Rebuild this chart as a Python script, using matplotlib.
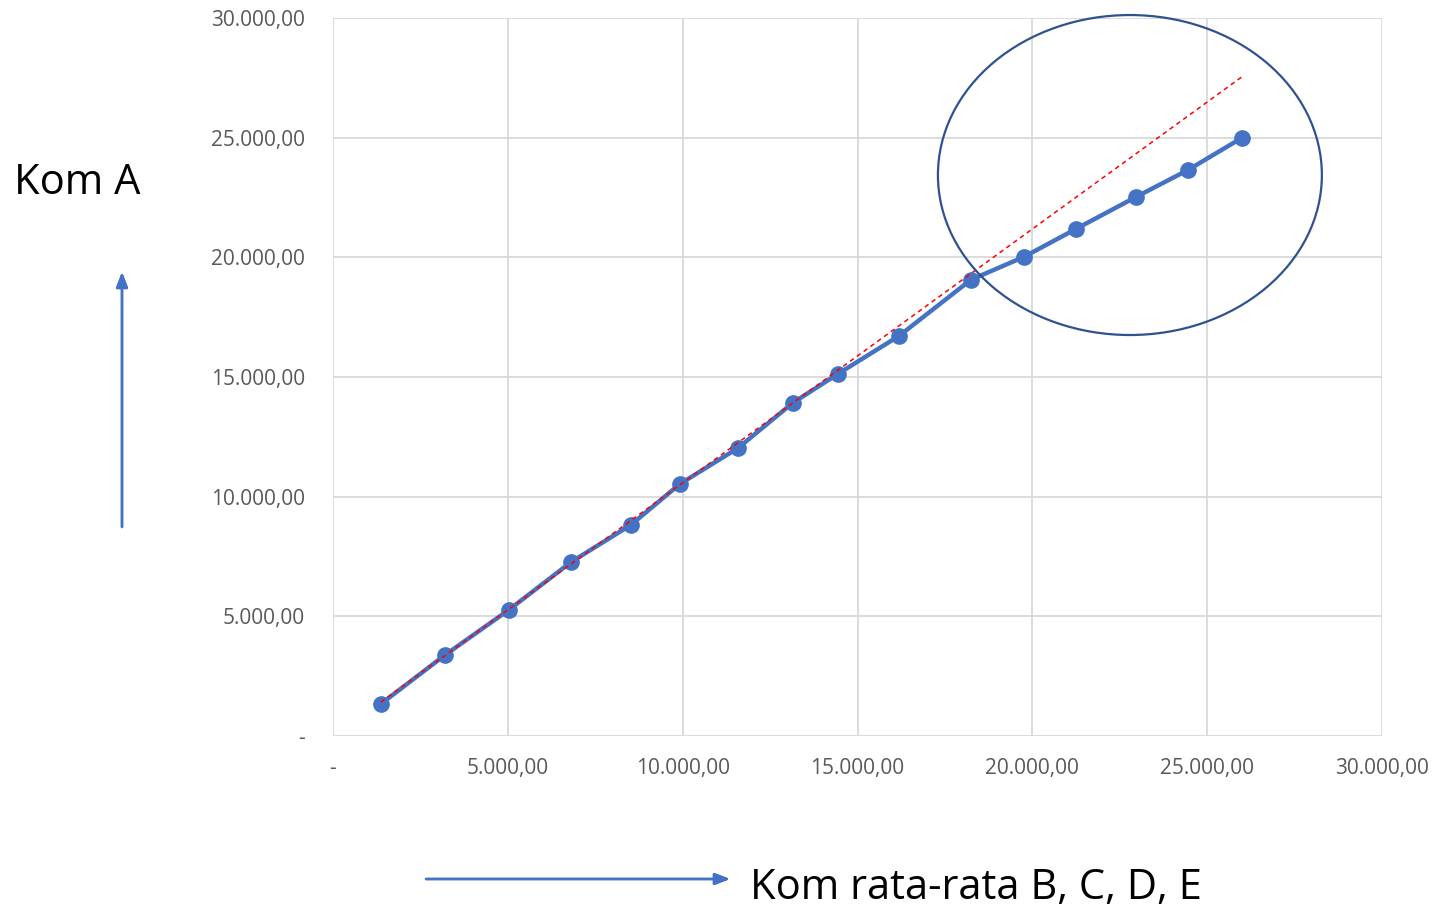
import numpy as np
import matplotlib.pyplot as plt
from matplotlib.patches import Ellipse

# data
kom_bcde = [1370, 3200, 5030, 6810, 8520, 9920, 11580, 13150, 14440,
            16190, 18240, 19760, 21250, 22960, 24450, 25990]
kom_a = [1340, 3380, 5270, 7270, 8820, 10530, 12030, 13920, 15130,
         16720, 19060, 20020, 21190, 22520, 23650, 24990]
trend_x = [1370, 25990]
trend_y = [1420, 27540]
ticks = [0, 5000, 10000, 15000, 20000, 25000, 30000]
tick_labels = ['-', '5.000,00', '10.000,00', '15.000,00',
               '20.000,00', '25.000,00', '30.000,00']
circle_center = (22790, 23440)
circle_w, circle_h = 10980, 13370

BLUE = '#4472C4'
GRID = '#D9D9D9'
TXT = '#595959'

plt.rcParams['font.family'] = ['Open Sans', 'DejaVu Sans']

fig = plt.figure(figsize=(14.39, 9.11), dpi=100)
ax = fig.add_axes([0.2314, 0.1921, 0.7290, 0.7881])

ax.plot(trend_x, trend_y, color='red', lw=1.1, ls=(0, (3, 2.5)), zorder=4)
ax.plot(kom_bcde, kom_a, color=BLUE, lw=3.2, marker='o', markersize=11,
        zorder=3)

ell = Ellipse(circle_center, circle_w, circle_h, fill=False,
              edgecolor='#2F528F', lw=1.6, zorder=5, clip_on=False)
ax.add_patch(ell)

ax.set_xlim(0, 30000)
ax.set_ylim(0, 30000)
ax.set_xticks(ticks)
ax.set_yticks(ticks)
ax.set_xticklabels(tick_labels)
ax.set_yticklabels(tick_labels)
ax.tick_params(length=0, labelsize=15, labelcolor=TXT)
ax.tick_params(axis='x', pad=16)
ax.tick_params(axis='y', pad=20)
ax.grid(True, color=GRID, lw=1.3)
ax.set_axisbelow(True)
for s in ax.spines.values():
    s.set_visible(False)

# axis titles with arrows (figure pixels)
W, H = 1439, 911
fig.text(14 / W, 1 - 183 / H, 'Kom A', fontsize=30, ha='left', va='center',
         color='black')
fig.text(750 / W, 1 - 888 / H, 'Kom rata-rata B, C, D, E', fontsize=30,
         ha='left', va='center', color='black')

arrow = dict(arrowstyle='-|>,head_width=0.35,head_length=0.9', color=BLUE,
             lw=1.8, shrinkA=0, shrinkB=0)
fig.add_artist(plt.annotate('', xy=(122 / W, 1 - 272 / H),
                            xytext=(122 / W, 1 - 527 / H),
                            xycoords='figure fraction',
                            textcoords='figure fraction', arrowprops=arrow))
fig.add_artist(plt.annotate('', xy=(730 / W, 1 - 879 / H),
                            xytext=(426 / W, 1 - 879 / H),
                            xycoords='figure fraction',
                            textcoords='figure fraction', arrowprops=arrow))

fig.savefig('out.png', dpi=100)
